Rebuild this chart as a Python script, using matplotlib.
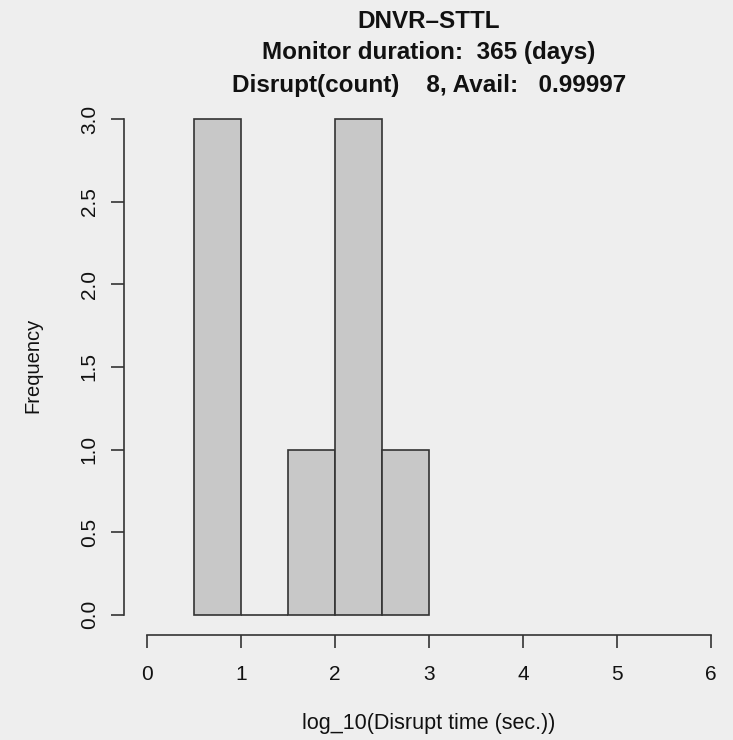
"""Histogram of disruption times (R base-graphics look)
"""
import matplotlib as mpl
import matplotlib.pyplot as plt
import numpy as np

mpl.rcParams['font.family'] = ['Liberation Sans', 'DejaVu Sans']
mpl.rcParams['font.size'] = 14.5

# histogram data
breaks = [0.5, 1.0, 1.5, 2.0, 2.5, 3.0]
counts = [3, 0, 1, 3, 1]
x_ticks = [0, 1, 2, 3, 4, 5, 6]
y_ticks = [0.0, 0.5, 1.0, 1.5, 2.0, 2.5, 3.0]

title_lines = ['DNVR\u2013STTL',
               'Monitor duration:  365 (days)',
               'Disrupt(count)    8, Avail:   0.99997']

bg = '#eeeeee'
W, H = 733, 740


def main():
    fig = plt.figure(figsize=(W / 100, H / 100), dpi=100, facecolor=bg)
    ax = fig.add_axes([124.4 / W, 105.3 / H, (733.6 - 124.4) / W, (637.7 - 102.3) / H])
    ax.set_facecolor(bg)

    lefts = np.array(breaks[:-1])
    widths = np.diff(breaks)
    ax.bar(lefts, counts, width=widths, align='edge', color='#c8c8c8',
           edgecolor='#333333', linewidth=1.2, zorder=2)

    # R style: 4% padding around data range
    ax.set_xlim(-0.24, 6.24)
    ax.set_ylim(-0.12, 3.12)
    for s in ['top', 'right']:
        ax.spines[s].set_visible(False)
    ax.spines['left'].set_bounds(0, 3)
    ax.spines['bottom'].set_bounds(0, 6)
    for s in ['left', 'bottom']:
        ax.spines[s].set_color('#333333')
        ax.spines[s].set_linewidth(1.2)

    ax.set_xticks(x_ticks)
    ax.set_xticklabels([str(t) for t in x_ticks])
    ax.set_yticks(y_ticks)
    ax.set_yticklabels(['%.1f' % t for t in y_ticks], rotation=90, va='center')
    ax.tick_params(axis='both', direction='out', length=9.4, width=1.2,
                   color='#333333', labelcolor='#111111', labelsize=15)
    ax.tick_params(axis='x', pad=12.5)
    ax.tick_params(axis='y', pad=9)

    xc = (124.4 + 733.6) / 2 / W
    for line, base in zip(title_lines, [28, 59, 92]):
        fig.text(xc, 1 - base / H, line, ha='center', va='baseline',
                 fontsize=17.5, fontweight='bold', color='#111111')

    fig.text(xc, 1 - 723 / H, 'log_10(Disrupt time (sec.))', ha='center',
             va='center', fontsize=15.5, color='#111111')
    fig.text(33 / W, 1 - 365 / H, 'Frequency', ha='center', va='center',
             rotation=90, fontsize=14.5, color='#111111')

    plt.savefig('out.png', dpi=100, facecolor=bg)
    plt.close()


if __name__ == '__main__':
    main()
